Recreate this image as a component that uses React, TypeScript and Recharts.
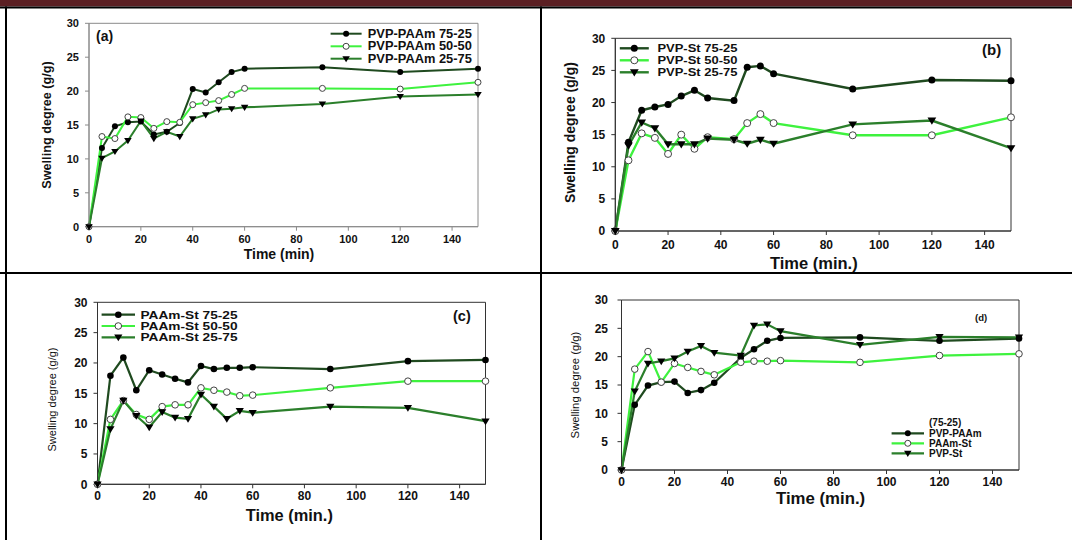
import React from 'react';
import { LineChart, Line, XAxis, YAxis, ReferenceArea } from 'recharts';

const FONT = '"Liberation Sans", Arial, Helvetica, sans-serif';

// time points (min)
const timeFull = [0, 5, 10, 15, 20, 25, 30, 35, 40, 45, 50, 55, 60, 90, 120, 150];
const timeNo40 = [0, 5, 10, 15, 20, 25, 30, 35, 45, 50, 55, 60, 90, 120, 150];

const xTicks = [0, 20, 40, 60, 80, 100, 120, 140];
const yTicks = [0, 5, 10, 15, 20, 25, 30];

// (a) PVP-PAAm
const pvpPaam7525 = [0, 11.6, 14.8, 15.4, 15.5, 13.6, 14.0, 15.3, 20.3, 19.8, 21.3, 22.8, 23.3, 23.5, 22.8, 23.3];
const pvpPaam5050 = [0, 13.3, 13.0, 16.2, 16.1, 14.5, 15.5, 15.4, 18.0, 18.3, 18.6, 19.5, 20.4, 20.4, 20.3, 21.3];
const pvpPaam2575 = [0, 10.1, 11.1, 12.7, 15.6, 13.0, 14.0, 13.3, 15.9, 16.5, 17.3, 17.4, 17.6, 18.1, 19.2, 19.5];

// (b) PVP-St
const pvpSt7525 = [0, 13.8, 18.8, 19.3, 19.7, 21.0, 21.9, 20.7, 20.3, 25.5, 25.7, 24.5, 22.1, 23.5, 23.4];
const pvpSt5050 = [0, 11.0, 15.2, 14.5, 12.0, 15.0, 12.8, 14.6, 14.3, 16.8, 18.2, 16.8, 14.9, 14.9, 17.7];
const pvpSt2575 = [0, 13.3, 16.9, 16.0, 13.5, 13.5, 13.5, 14.4, 14.2, 13.6, 14.2, 13.6, 16.6, 17.2, 12.9];

// (c) PAAm-St
const paamSt7525 = [0, 17.9, 20.9, 15.5, 18.8, 18.1, 17.4, 16.8, 19.5, 19.0, 19.2, 19.2, 19.3, 19.0, 20.3, 20.5];
const paamSt5050 = [0, 10.7, 13.8, 11.5, 10.7, 12.8, 13.1, 13.1, 15.9, 15.5, 15.2, 14.6, 14.7, 15.9, 17.0, 17.0];
const paamSt2575 = [0, 9.1, 13.8, 11.3, 9.4, 11.9, 11.0, 10.8, 14.8, 12.8, 10.8, 12.1, 11.8, 12.8, 12.6, 10.4];

// (d) comparison (75-25)
const cmpPvpPaam = [0, 11.5, 14.9, 15.5, 15.6, 13.6, 14.1, 15.4, 19.8, 21.3, 22.8, 23.3, 23.4, 22.8, 23.2];
const cmpPaamSt = [0, 17.8, 20.9, 15.5, 18.8, 18.1, 17.4, 16.8, 19.0, 19.2, 19.2, 19.3, 19.0, 20.2, 20.5];
const cmpPvpSt = [0, 13.9, 18.8, 19.2, 19.7, 20.9, 21.9, 20.7, 20.2, 25.5, 25.7, 24.5, 22.1, 23.5, 23.4];

const DARK = '#1f4a1f';
const MID = '#2b7f2b';
const LIGHT = '#3ef23e';

type MarkerKind = 'dot' | 'open' | 'tri';
type Series = { key: string; name: string; values: number[]; color: string; marker: MarkerKind };

function Marker({ kind, cx, cy, r }: { kind: MarkerKind; cx: number; cy: number; r: number }) {
  if (cx == null || cy == null) return null;
  if (kind === 'dot') return <circle cx={cx} cy={cy} r={r} fill="#000" />;
  if (kind === 'open') return <circle cx={cx} cy={cy} r={r} fill="#fff" stroke="#444" strokeWidth={1} />;
  const w = r * 1.25;
  return (
    <path
      d={`M${cx - w},${cy - r * 0.85} L${cx + w},${cy - r * 0.85} L${cx},${cy + r * 1.2} Z`}
      fill="#000"
    />
  );
}

type PanelCfg = {
  left: number;
  top: number;
  width: number;
  height: number;
  margin: { top: number; right: number; bottom: number; left: number };
  times: number[];
  series: Series[];
  strokeWidth: number;
  markerR: number;
  tickFont: number;
  xTickMargin: number;
  yTickMargin: number;
  axisColor: string;
};

function buildRows(times: number[], series: Series[]) {
  return times.map((t, i) => {
    const row: Record<string, number> = { t };
    series.forEach((s) => {
      row[s.key] = s.values[i];
    });
    return row;
  });
}

function Panel({ cfg }: { cfg: PanelCfg }) {
  const data = buildRows(cfg.times, cfg.series);
  const tick = { fontSize: cfg.tickFont, fontWeight: 'bold', fill: '#111', fontFamily: FONT };
  return (
    <div style={{ position: 'absolute', left: cfg.left, top: cfg.top }}>
      <LineChart width={cfg.width} height={cfg.height} data={data} margin={cfg.margin}>
        <XAxis
          type="number"
          dataKey="t"
          domain={[0, 150]}
          ticks={xTicks}
          interval={0}
          height={20}
          tickSize={4}
          tickMargin={cfg.xTickMargin}
          axisLine={{ stroke: cfg.axisColor }}
          tickLine={{ stroke: cfg.axisColor }}
          tick={tick}
        />
        <YAxis
          type="number"
          domain={[0, 30]}
          ticks={yTicks}
          interval={0}
          width={30}
          tickSize={4}
          tickMargin={cfg.yTickMargin}
          axisLine={{ stroke: cfg.axisColor }}
          tickLine={{ stroke: cfg.axisColor }}
          tick={tick}
        />
        <ReferenceArea x1={0} x2={150} y1={0} y2={30} fill="none" stroke={cfg.axisColor} strokeWidth={1} ifOverflow="visible" />
        {cfg.series.map((s) => (
          <Line
            key={s.key}
            type="linear"
            dataKey={s.key}
            name={s.name}
            stroke={s.color}
            strokeWidth={cfg.strokeWidth}
            isAnimationActive={false}
            activeDot={false}
            dot={(p: any) => (
              <Marker key={`${s.key}-${p.index}`} kind={s.marker} cx={p.cx} cy={p.cy} r={cfg.markerR} />
            )}
          />
        ))}
      </LineChart>
    </div>
  );
}

const seriesA: Series[] = [
  { key: 'a1', name: 'PVP-PAAm 75-25', values: pvpPaam7525, color: DARK, marker: 'dot' },
  { key: 'a2', name: 'PVP-PAAm 50-50', values: pvpPaam5050, color: LIGHT, marker: 'open' },
  { key: 'a3', name: 'PVP-PAAm 25-75', values: pvpPaam2575, color: MID, marker: 'tri' },
];
const seriesB: Series[] = [
  { key: 'b1', name: 'PVP-St 75-25', values: pvpSt7525, color: DARK, marker: 'dot' },
  { key: 'b2', name: 'PVP-St 50-50', values: pvpSt5050, color: LIGHT, marker: 'open' },
  { key: 'b3', name: 'PVP-St 25-75', values: pvpSt2575, color: MID, marker: 'tri' },
];
const seriesC: Series[] = [
  { key: 'c1', name: 'PAAm-St 75-25', values: paamSt7525, color: DARK, marker: 'dot' },
  { key: 'c2', name: 'PAAm-St 50-50', values: paamSt5050, color: LIGHT, marker: 'open' },
  { key: 'c3', name: 'PAAm-St 25-75', values: paamSt2575, color: MID, marker: 'tri' },
];
const seriesD: Series[] = [
  { key: 'd1', name: 'PVP-PAAm', values: cmpPvpPaam, color: DARK, marker: 'dot' },
  { key: 'd2', name: 'PAAm-St', values: cmpPaamSt, color: LIGHT, marker: 'open' },
  { key: 'd3', name: 'PVP-St', values: cmpPvpSt, color: MID, marker: 'tri' },
];

const panels: PanelCfg[] = [
  {
    left: 0, top: 0, width: 540, height: 272,
    margin: { top: 23.3, right: 62, bottom: 25.3, left: 59 },
    times: timeFull, series: seriesA, strokeWidth: 2, markerR: 3, tickFont: 11,
    xTickMargin: 4.5, yTickMargin: 6, axisColor: '#8a8a8a',
  },
  {
    left: 542, top: 0, width: 530, height: 272,
    margin: { top: 38.3, right: 61, bottom: 21, left: 43.3 },
    times: timeNo40, series: seriesB, strokeWidth: 2.4, markerR: 3.5, tickFont: 12,
    xTickMargin: 5, yTickMargin: 6, axisColor: '#333',
  },
  {
    left: 0, top: 274, width: 540, height: 266,
    margin: { top: 28.3, right: 54.5, bottom: 35.7, left: 67.5 },
    times: timeFull, series: seriesC, strokeWidth: 2.2, markerR: 3.3, tickFont: 12,
    xTickMargin: 3.5, yTickMargin: 6, axisColor: '#333',
  },
  {
    left: 542, top: 274, width: 530, height: 266,
    margin: { top: 26, right: 53, bottom: 50, left: 49.5 },
    times: timeNo40, series: seriesD, strokeWidth: 2.2, markerR: 3.3, tickFont: 12,
    xTickMargin: 3.5, yTickMargin: 9.5, axisColor: '#333',
  },
];

type LegendCfg = {
  x1: number; x2: number; tx: number; rows: number[]; size: number;
  series: Series[]; sw: number; r: number; widths?: number[];
};

const legends: LegendCfg[] = [
  { x1: 330.6, x2: 361.6, tx: 367.8, rows: [33.7, 46.3, 58.7], size: 12, series: seriesA, sw: 2, r: 3, widths: [104, 104, 104] },
  { x1: 619.8, x2: 648.8, tx: 657.4, rows: [48.3, 60.3, 72.3], size: 11.3, series: seriesB, sw: 2.4, r: 3.5, widths: [80, 80, 80] },
  { x1: 101.6, x2: 135, tx: 140.5, rows: [314.7, 326, 337.3], size: 11, series: seriesC, sw: 2.2, r: 3.3, widths: [97, 97, 97] },
  { x1: 891.6, x2: 924, tx: 929, rows: [433.3, 443.3, 453.3], size: 10, series: seriesD, sw: 2.2, r: 3 },
];

type TextCfg = { x: number; y: number; text: string; size: number; bold: boolean; rotate?: boolean; anchor?: 'start' | 'middle' };

const texts: TextCfg[] = [
  { x: 96, y: 36, text: '(a)', size: 14, bold: true, anchor: 'start' },
  { x: 982, y: 49, text: '(b)', size: 15, bold: true, anchor: 'start' },
  { x: 453, y: 316, text: '(c)', size: 14.5, bold: true, anchor: 'start' },
  { x: 975, y: 317.7, text: '(d)', size: 9.5, bold: true, anchor: 'start' },
  { x: 929, y: 422.7, text: '(75-25)', size: 10, bold: true, anchor: 'start' },
  { x: 46.5, y: 125, text: 'Swelling degree (g/g)', size: 12.7, bold: true, rotate: true },
  { x: 570, y: 132.5, text: 'Swelling degree (g/g)', size: 14, bold: true, rotate: true },
  { x: 51.6, y: 399.5, text: 'Swelling degree (g/g)', size: 11, bold: false, rotate: true },
  { x: 575, y: 385, text: 'Swelling degree (g/g)', size: 11.3, bold: false, rotate: true },
  { x: 279, y: 254, text: 'Time (min)', size: 14, bold: true },
  { x: 813.8, y: 263.3, text: 'Time (min.)', size: 16.5, bold: true },
  { x: 289.3, y: 515, text: 'Time (min.)', size: 16.4, bold: true },
  { x: 820.6, y: 498, text: 'Time (min.)', size: 16.8, bold: true },
];

export default function App() {
  return (
    <div
      style={{
        position: 'absolute',
        left: 0,
        top: 0,
        width: 1072,
        height: 540,
        background: '#fff',
        overflow: 'hidden',
        fontFamily: FONT,
      }}
    >
      {panels.map((p, i) => (
        <Panel key={i} cfg={p} />
      ))}
      <svg
        width={1072}
        height={540}
        style={{ position: 'absolute', left: 0, top: 0, pointerEvents: 'none' }}
      >
        <rect x={0} y={0} width={1072} height={6.5} fill="#5b1f23" />
        <rect x={0} y={6.5} width={1072} height={2} fill="#000" />
        <rect x={5} y={6.5} width={2} height={534} fill="#000" />
        <rect x={540} y={6.5} width={2} height={534} fill="#000" />
        <rect x={0} y={272} width={1072} height={2} fill="#000" />
        {legends.map((lg, li) =>
          lg.series.map((s, si) => (
            <g key={`lg-${li}-${si}`}>
              <line x1={lg.x1} x2={lg.x2} y1={lg.rows[si]} y2={lg.rows[si]} stroke={s.color} strokeWidth={lg.sw} />
              <Marker kind={s.marker} cx={(lg.x1 + lg.x2) / 2} cy={lg.rows[si]} r={lg.r} />
              <text
                x={lg.tx}
                y={lg.rows[si]}
                fontSize={lg.size}
                fontWeight="bold"
                fontFamily={FONT}
                fill="#111"
                dominantBaseline="central"
                textLength={lg.widths ? lg.widths[si] : undefined}
                lengthAdjust={lg.widths ? 'spacingAndGlyphs' : undefined}
              >
                {s.name}
              </text>
            </g>
          ))
        )}
        {texts.map((t, i) => (
          <text
            key={`t-${i}`}
            x={t.x}
            y={t.y}
            fontSize={t.size}
            fontWeight={t.bold ? 'bold' : 'normal'}
            fontFamily={FONT}
            fill="#111"
            textAnchor={t.anchor || 'middle'}
            dominantBaseline="central"
            transform={t.rotate ? `rotate(-90 ${t.x} ${t.y})` : undefined}
          >
            {t.text}
          </text>
        ))}
      </svg>
    </div>
  );
}
